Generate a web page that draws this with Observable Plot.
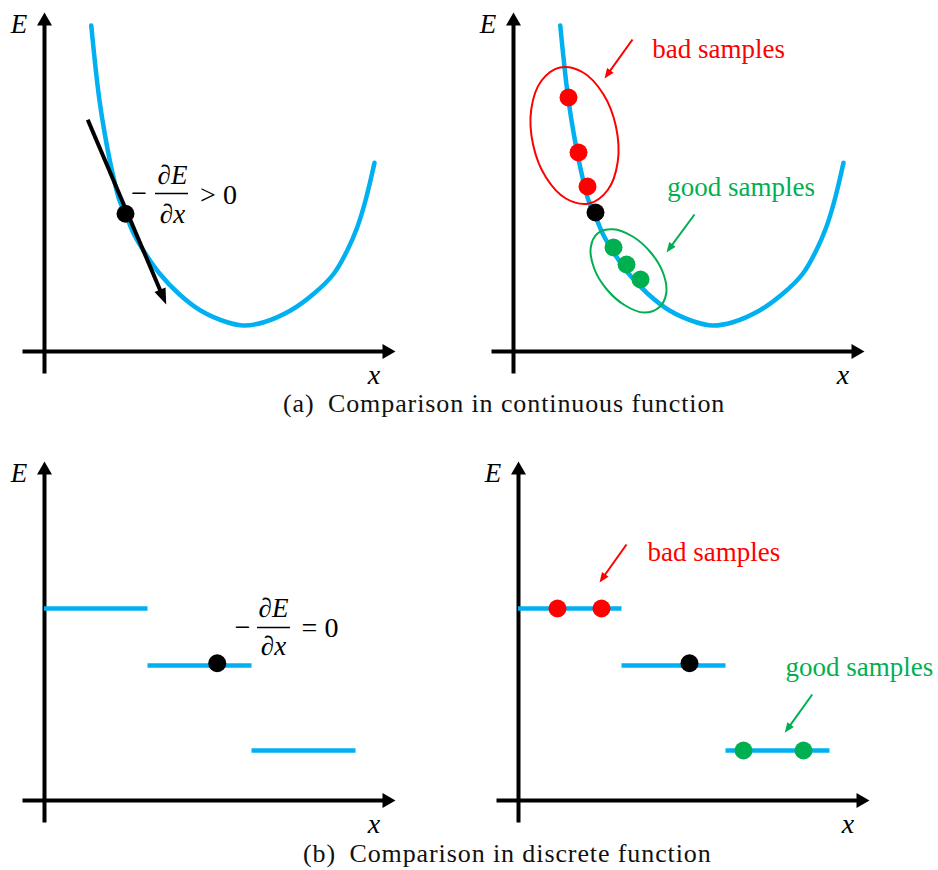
<!DOCTYPE html>
<html><head><meta charset="utf-8">
<script src="https://cdn.jsdelivr.net/npm/d3@7"></script>
<script src="https://cdn.jsdelivr.net/npm/@observablehq/plot@0.6"></script>
<style>
html,body{margin:0;padding:0;background:#fff;}
#wrap{position:relative;width:938px;height:870px;overflow:hidden;background:#fff;}
#wrap svg{position:absolute;}
.cap{position:absolute;font-family:"Liberation Serif","Times New Roman",serif;font-size:26px;line-height:26px;letter-spacing:0.9px;color:#111;white-space:nowrap;}
.cap .tag{margin-right:6px;}
</style></head><body><div id="wrap"></div>
<script>
// ---------------- data (in axis units; origin = where the axes cross) ----------------
// energy curve E(x) of the continuous function
const curveX = [1.87,2.04,2.2,2.41,2.67,3.0,3.24,3.57,4.04,4.61,5.37,6.24,7.31,7.97,8.77,9.84,10.77,11.57,12.11,12.51,12.84,13.2];
const curveY = [13.04,11.37,10.04,8.71,7.37,6.04,5.51,4.71,3.91,3.11,2.31,1.64,1.17,1.04,1.17,1.64,2.31,3.11,4.04,4.97,6.04,7.55];
// tangent (gradient) arrow, left top
const tangentX = [1.73, 4.87];
const tangentY = [9.27, 1.88];
const contPointX = [3.24], contPointY = [5.51];
// samples on the continuous curve (right top)
const contRefX = [3.28], contRefY = [5.56];
const contBadX = [2.2, 2.6, 2.96], contBadY = [10.16, 7.96, 6.6];
const contGoodX = [4.0, 4.52, 5.08], contGoodY = [4.16, 3.48, 2.88];
// outlines around the sample groups
const badRingX = [3.02,3.77,4.17,4.10,3.59,2.77,1.86,1.11,0.71,0.78,1.29,2.11];
const badRingY = [5.92,6.46,7.59,8.99,10.30,11.17,11.36,10.82,9.69,8.29,6.98,6.11];
const goodRingX = [5.83,6.11,5.98,5.49,4.75,3.98,3.37,3.09,3.22,3.71,4.45,5.22];
const goodRingY = [1.77,2.33,3.15,3.96,4.61,4.89,4.73,4.16,3.34,2.51,1.85,1.56];
// pointer arrows
const contBadArrowX = [4.76, 3.64], contBadArrowY = [12.48, 10.92];
const contGoodArrowX = [7.24, 6.12], contGoodArrowY = [5.48, 3.96];
const discBadArrowX = [4.32, 3.24], discBadArrowY = [10.24, 8.72];
const discGoodArrowX = [11.75, 10.65], discGoodArrowY = [4.24, 2.71];
// discrete (step) function
const stepX1 = [0, 4.14, 8.3];
const stepX2 = [4.14, 8.3, 12.46];
const stepY = [7.68, 5.4, 2.0];
const discPointX = [6.91], discPointY = [5.49];
const discRefX = [6.84], discRefY = [5.49];
const discBadX = [1.56, 3.32], discBadY = [7.68, 7.68];
const discGoodX = [9.0, 11.4], discGoodY = [2.0, 2.0];
// axes extents
const xAxisExtent = [-0.88, 14.04];
const yAxisExtent = [-0.88, 13.56];
// labels
const axisLabels = ["E", "x"];
const axisLabelX = [-1.02, 13.18], axisLabelY = [13.08, -0.95];
// gradient expression: [minus, numerator, denominator, relation]
const gradContText = ["−", "∂E", "∂x", "> 0"];
const gradContX = [3.78, 5.12, 5.12, 6.96], gradContY = [6.32, 7.06, 5.49, 6.27];
const gradContBar = [4.44, 5.76, 6.32];
const gradDiscText = ["−", "∂E", "∂x", "= 0"];
const gradDiscX = [7.92, 9.16, 9.16, 11.02], gradDiscY = [6.92, 7.7, 6.16, 6.88];
const gradDiscBar = [8.52, 9.84, 6.92];
const sampleText = ["bad samples", "good samples"];
const contSampleX = [5.55, 6.15], contSampleY = [12.10, 6.58];
const discSampleX = [5.16, 10.68], discSampleY = [9.94, 5.34];
const captions = ["(a)", "Comparison in continuous function", "(b)", "Comparison in discrete function"];

// ---------------- drawing ----------------
const blue = "#00B0F0", red = "#FF0000", green = "#00B050";
const serif = "Liberation Serif";
const W = 469, H = 390;
const xDomain = [-1.76, 17.0], yDomain = [-1.56, 14.04];
const zip = (xs, ys) => xs.map((x, i) => ({x, y: ys[i]}));

function headSymbol(ratio) {
  return {draw(ctx, size) {
    const L = Math.sqrt(size / Math.PI), w = L * ratio / 2;
    ctx.moveTo(0, 0); ctx.lineTo(-w, L); ctx.lineTo(w, L); ctx.closePath();
  }};
}
function arrowMarks(xs, ys, {stroke, strokeWidth, head, ratio}) {
  const rows = [{x1: xs[0], y1: ys[0], x2: xs[1], y2: ys[1]}];
  return [
    Plot.arrow(rows, {x1: "x1", y1: "y1", x2: "x2", y2: "y2", stroke, strokeWidth, headLength: 0, insetEnd: head * 0.7, strokeLinecap: "butt"}),
    Plot.dot(rows, {x: "x2", y: "y2", r: head, symbol: headSymbol(ratio), fill: stroke,
      rotate: d => Math.atan2(d.x2 - d.x1, d.y2 - d.y1) * 180 / Math.PI})
  ];
}
function axesMarks() {
  return [
    arrowMarks([0, 0], yAxisExtent, {stroke: "black", strokeWidth: 4, head: 13, ratio: 1.15}),
    arrowMarks(xAxisExtent, [0, 0], {stroke: "black", strokeWidth: 4, head: 13, ratio: 1.15}),
    Plot.text([axisLabels[0]], {x: [axisLabelX[0]], y: [axisLabelY[0]], text: d => d, fontFamily: serif, fontStyle: "italic", fontSize: 27, fill: "black"}),
    Plot.text([axisLabels[1]], {x: [axisLabelX[1]], y: [axisLabelY[1]], text: d => d, fontFamily: serif, fontStyle: "italic", fontSize: 28, fill: "black"})
  ];
}
function gradLabel(texts, xs, ys, bar) {
  const rows = texts.map((t, i) => ({t, x: xs[i], y: ys[i]}));
  const minus = rows.filter(d => d.t === "−");
  const italic = rows.filter(d => d.t.startsWith("∂"));
  const upright = rows.filter(d => d.t !== "−" && !d.t.startsWith("∂"));
  return [
    Plot.text(minus, {x: "x", y: "y", text: "t", fontFamily: "DejaVu Serif", fontSize: 21, fill: "black"}),
    Plot.text(italic, {x: "x", y: "y", text: "t", fontFamily: serif, fontStyle: "italic", fontSize: 27, fill: "black"}),
    Plot.text(upright, {x: "x", y: "y", text: "t", fontFamily: serif, fontSize: 28, fill: "black"}),
    Plot.ruleY([bar[2]], {x1: bar[0], x2: bar[1], stroke: "black", strokeWidth: 1.5})
  ];
}
function panel(marks, left, top) {
  const svg = Plot.plot({
    width: W, height: H, margin: 0,
    x: {domain: xDomain, range: [0, W], axis: null},
    y: {domain: yDomain, range: [H, 0], axis: null},
    style: {background: "transparent", overflow: "visible"},
    marks
  });
  svg.style.left = left + "px";
  svg.style.top = top + "px";
  document.getElementById("wrap").appendChild(svg);
}
const curveData = zip(curveX, curveY);
const curveMark = Plot.line(curveData, {x: "x", y: "y", stroke: blue, strokeWidth: 4.5, curve: "catmull-rom"});
const stepMark = Plot.ruleY(stepY.map((y, i) => ({y, x1: stepX1[i], x2: stepX2[i]})), {y: "y", x1: "x1", x2: "x2", stroke: blue, strokeWidth: 4.5});
const dots = (xs, ys, fill) => Plot.dot(zip(xs, ys), {x: "x", y: "y", r: 9, fill});
const sampleLabels = (xs, ys) => Plot.text(sampleText, {x: xs, y: ys, text: d => d, textAnchor: "start",
  fontFamily: serif, fontSize: 27, fill: (d, i) => i === 0 ? red : green});

// (a) left
panel([
  axesMarks(),
  curveMark,
  arrowMarks(tangentX, tangentY, {stroke: "black", strokeWidth: 4, head: 16, ratio: 0.75}),
  dots(contPointX, contPointY, "black"),
  gradLabel(gradContText, gradContX, gradContY, gradContBar)
], 0, 0);

// (a) right
panel([
  axesMarks(),
  curveMark,
  Plot.line(zip(badRingX, badRingY), {x: "x", y: "y", stroke: red, strokeWidth: 2, curve: "catmull-rom-closed"}),
  Plot.line(zip(goodRingX, goodRingY), {x: "x", y: "y", stroke: green, strokeWidth: 2, curve: "catmull-rom-closed"}),
  dots(contBadX, contBadY, red),
  dots(contRefX, contRefY, "black"),
  dots(contGoodX, contGoodY, green),
  arrowMarks(contBadArrowX, contBadArrowY, {stroke: red, strokeWidth: 2, head: 10, ratio: 0.8}),
  arrowMarks(contGoodArrowX, contGoodArrowY, {stroke: green, strokeWidth: 2, head: 10, ratio: 0.8}),
  sampleLabels(contSampleX, contSampleY)
], 469, 0);

// (b) left
panel([
  axesMarks(),
  stepMark,
  dots(discPointX, discPointY, "black"),
  gradLabel(gradDiscText, gradDiscX, gradDiscY, gradDiscBar)
], 0, 449);

// (b) right
panel([
  axesMarks(),
  stepMark,
  dots(discBadX, discBadY, red),
  dots(discRefX, discRefY, "black"),
  dots(discGoodX, discGoodY, green),
  arrowMarks(discBadArrowX, discBadArrowY, {stroke: red, strokeWidth: 2, head: 10, ratio: 0.8}),
  arrowMarks(discGoodArrowX, discGoodArrowY, {stroke: green, strokeWidth: 2, head: 10, ratio: 0.8}),
  sampleLabels(discSampleX, discSampleY)
], 474, 449);

// captions
function caption(tag, text, left, top) {
  const d = document.createElement("div");
  d.className = "cap";
  d.style.left = left + "px";
  d.style.top = top + "px";
  const s = document.createElement("span");
  s.className = "tag";
  s.textContent = tag;
  d.appendChild(s);
  d.appendChild(document.createTextNode(" " + text));
  document.getElementById("wrap").appendChild(d);
}
caption(captions[0], captions[1], 283, 391);
caption(captions[2], captions[3], 303, 841);
</script>
</body></html>
